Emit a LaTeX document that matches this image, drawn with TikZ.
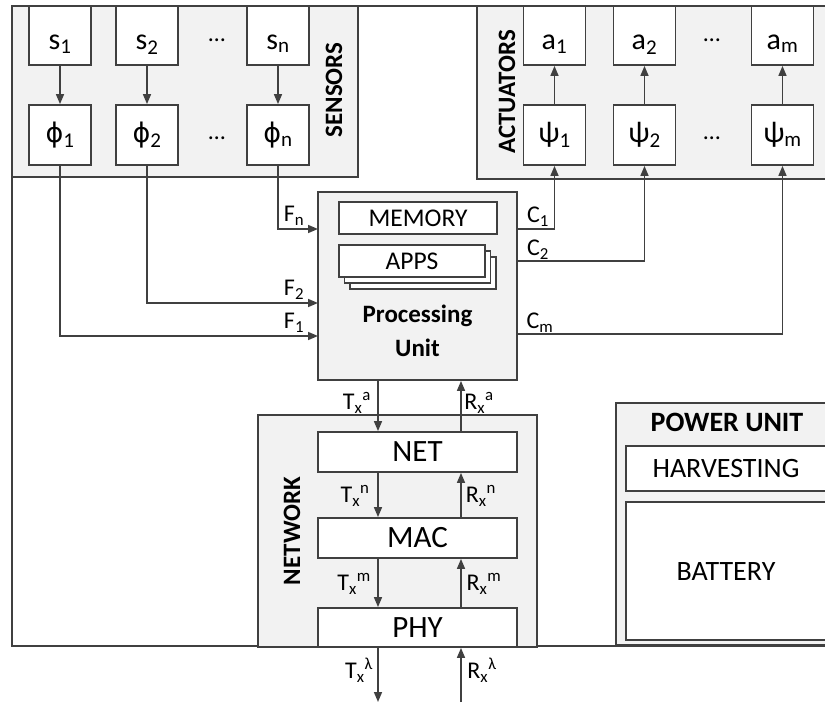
\documentclass[tikz,border=0pt]{standalone}
\usepackage{fontspec}
\setmainfont{Carlito}
\newfontfamily\grk{DejaVu Sans}
\usetikzlibrary{arrows.meta}
\definecolor{ln}{HTML}{404040}
\definecolor{grayfill}{HTML}{F2F2F2}
\newcommand{\myphi}{{\grk\fontsize{27}{29}\selectfont ϕ}}
\newcommand{\lowtxt}[1]{\raisebox{-6pt}[15pt][0pt]{#1}}
\begin{document}
\begin{tikzpicture}[x=1pt,y=-1pt,
  line/.style={draw=ln, line width=1.8pt},
  arr/.style={draw=ln, line width=1.6pt, -{Triangle[length=10pt,width=8pt]}},
  cont/.style={draw=ln, line width=1.8pt, fill=grayfill, inner sep=0pt},
  wbox/.style={draw=ln, line width=1.8pt, fill=white, inner sep=0pt},
  blk/.style={wbox, minimum width=62pt, minimum height=60pt, font=\fontsize{30}{32}\selectfont},
  lab/.style={font=\fontsize{24}{26}\selectfont, inner sep=0pt},
  txt/.style={font=\fontsize{25.5}{27}\selectfont, inner sep=0pt},
  ptxt/.style={font=\fontsize{28}{30}\selectfont, inner sep=0pt},
  btxt/.style={font=\fontsize{25}{27}\selectfont\bfseries, inner sep=0pt},
  pbtxt/.style={font=\fontsize{28}{30}\selectfont\bfseries, inner sep=0pt},
  big/.style={font=\fontsize{31}{33}\selectfont, inner sep=0pt}
]
\useasboundingbox (0,0) rectangle (825,702);
\fill[white] (0,0) rectangle (825,702);
% outer frame
\draw[line] (12,6) rectangle (840,646);
% containers
\draw[cont] (12,6) rectangle (358,177);
\draw[cont] (477,6) rectangle (840,179);
\draw[cont] (258,415) rectangle (537,647);
\draw[cont] (616,403) rectangle (838,645);
\node[rotate=90, btxt] (sens) at (334,90) {SENSORS};
\node[rotate=90, btxt] (act) at (507,92) {ACTUATORS};
\node[rotate=90, btxt] (netw) at (292,531) {NETWORK};
% sensors
\node[blk, minimum height=59pt] (s1) at (60,35.5) {\lowtxt{s\textsubscript{1}}};
\node[blk, minimum height=59pt] (s2) at (147,35.5) {\lowtxt{s\textsubscript{2}}};
\node[blk, minimum height=59pt] (sn) at (278,35.5) {\lowtxt{s\textsubscript{n}}};
\node[blk] (phi1) at (60,135) {\myphi\textsubscript{1}};
\node[blk] (phi2) at (147,135) {\myphi\textsubscript{2}};
\node[blk] (phin) at (278,135) {\myphi\textsubscript{n}};
\node[lab] (sdots) at (217,40) {…};
\node[lab] (pdots) at (217,138) {…};
% actuators
\node[blk, minimum height=59pt] (a1) at (554.5,35.5) {\lowtxt{a\textsubscript{1}}};
\node[blk, minimum height=59pt] (a2) at (644.5,35.5) {\lowtxt{a\textsubscript{2}}};
\node[blk, minimum height=59pt] (am) at (782.5,35.5) {\lowtxt{a\textsubscript{m}}};
\node[blk] (psi1) at (554.5,135) {ψ\textsubscript{1}};
\node[blk] (psi2) at (644.5,135) {ψ\textsubscript{2}};
\node[blk] (psim) at (782.5,135) {ψ\textsubscript{m}};
\node[lab] (adots) at (712,40) {…};
\node[lab] (qdots) at (712,138) {…};
\draw[arr] (s1) -- (phi1);
\draw[arr] (s2) -- (phi2);
\draw[arr] (sn) -- (phin);
\draw[arr] (psi1) -- (a1);
\draw[arr] (psi2) -- (a2);
\draw[arr] (psim) -- (am);
% processing unit
\node[cont, minimum width=199pt, minimum height=188pt] (pu) at (417.5,286) {};
\node[wbox, minimum width=146pt, minimum height=32pt] (apps3) at (423,273) {};
\node[wbox, minimum width=146pt, minimum height=32pt] (apps2) at (417.5,267) {};
\node[wbox, minimum width=146pt, minimum height=32pt, txt] (apps) at (412,261) {APPS};
\node[wbox, minimum width=158pt, minimum height=32pt, txt] (mem) at (418,218) {MEMORY};
\node[btxt, align=center] (putxt) at (417.5,331) {Processing\\[7pt]Unit};
% inputs
\coordinate (pfn) at (318,229);
\coordinate (pf2) at (318,303);
\coordinate (pf1) at (318,336);
\draw[arr] (phin.south) |- (pfn);
\draw[arr] (phi2.south) |- (pf2);
\draw[arr] (phi1.south) |- (pf1);
\node[lab] (lfn) at (294,216) {F\textsubscript{n}};
\node[lab] (lf2) at (294,290) {F\textsubscript{2}};
\node[lab] (lf1) at (294,323) {F\textsubscript{1}};
% outputs
\coordinate (pc1) at (517,229);
\coordinate (pc2) at (517,261);
\coordinate (pcm) at (517,334);
\draw[arr] (pc1) -| (psi1.south);
\draw[arr] (pc2) -| (psi2.south);
\draw[arr] (pcm) -| (psim.south);
\node[lab] (lc1) at (538,217) {C\textsubscript{1}};
\node[lab] (lc2) at (538,250) {C\textsubscript{2}};
\node[lab] (lcm) at (540,323) {C\textsubscript{m}};
% network
\node[wbox, minimum width=199pt, minimum height=40pt, big] (net) at (417.5,452) {NET};
\node[wbox, minimum width=199pt, minimum height=40pt, big] (mac) at (417.5,538) {MAC};
\node[wbox, minimum width=199pt, minimum height=39pt, big] (phy) at (417.5,627.5) {PHY};
\coordinate (txc) at (378,0);
\coordinate (rxc) at (461,0);
\coordinate (txend) at (378,702);
\coordinate (rxend) at (461,702);
\draw[arr] (pu.south -| txc) -- (net.north -| txc);
\draw[arr] (net.north -| rxc) -- (pu.south -| rxc);
\draw[arr] (net.south -| txc) -- (mac.north -| txc);
\draw[arr] (mac.north -| rxc) -- (net.south -| rxc);
\draw[arr] (mac.south -| txc) -- (phy.north -| txc);
\draw[arr] (phy.north -| rxc) -- (mac.south -| rxc);
\draw[arr] (phy.south -| txc) -- (txend);
\draw[arr] (rxend) -- (phy.south -| rxc);
\node[lab] (lta) at (357,403) {T\textsubscript{x}\textsuperscript{a}};
\node[lab] (lra) at (479,403) {R\textsubscript{x}\textsuperscript{a}};
\node[lab] (ltn) at (355,496) {T\textsubscript{x}\textsuperscript{n}};
\node[lab] (lrn) at (481,496) {R\textsubscript{x}\textsuperscript{n}};
\node[lab] (ltm) at (354,584) {T\textsubscript{x}\textsuperscript{m}};
\node[lab] (lrm) at (484,584) {R\textsubscript{x}\textsuperscript{m}};
\node[lab] (ltl) at (359,670) {T\textsubscript{x}\textsuperscript{λ}};
\node[lab] (lrl) at (482,670) {R\textsubscript{x}\textsuperscript{λ}};
% power unit
\node[pbtxt] (pwr) at (727,422) {POWER UNIT};
\draw[line, fill=white] (626,446) rectangle (830,491);
\draw[line, fill=white] (626,502) rectangle (830,640);
\node[ptxt] (harv) at (726,468.5) {HARVESTING};
\node[ptxt] (batt) at (726,572) {BATTERY};
\end{tikzpicture}
\end{document}
